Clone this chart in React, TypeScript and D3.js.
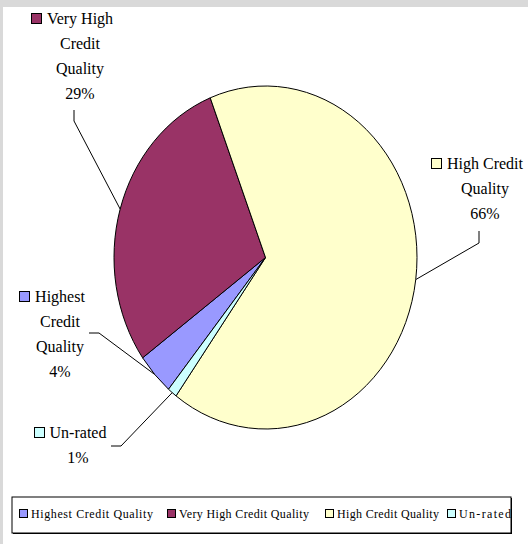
import React from "react";
import * as d3 from "d3";

const categories = ["Highest Credit Quality", "Very High Credit Quality", "High Credit Quality", "Un-rated"];
const values = [4, 29, 66, 1];
const colors = ["#9999FF", "#993366", "#FFFFCC", "#CCFFFF"];
const labelLines = [["Highest", "Credit", "Quality"], ["Very High", "Credit", "Quality"], ["High Credit", "Quality"], ["Un-rated"]];

// layout
const W = 528, H = 544;
const cx = 265.5, cy = 257.5, rx = 151.5, ry = 171.5;
const startDeg = 219.8;
const lineH = 25;
const labelLayout = [
  { tx: 60, by: 302, lead: [[89, 333], [99, 333]] },
  { tx: 80, by: 24, lead: [[74, 110], [74, 121]] },
  { tx: 485, by: 169, lead: [[479, 231], [479, 243]] },
  { tx: 78, by: 438, lead: [[111, 446], [121, 446]] },
];
const legendTextW = [122, 130, 102, 52];
const legendKeyX = [19, 167, 325, 447];
const FONT = "'Liberation Serif', 'Times New Roman', serif";

let ctx: CanvasRenderingContext2D | null = null;
function measure(text: string, size: number): number {
  if (!ctx) ctx = document.createElement("canvas").getContext("2d");
  if (!ctx) return text.length * size * 0.45;
  ctx.font = `${size}px ${FONT}`;
  return ctx.measureText(text).width;
}

export default function App() {
  const total = d3.sum(values);
  const start = (startDeg * Math.PI) / 180;
  const pie = d3.pie<number>().sort(null).value((d) => d).startAngle(start).endAngle(start + 2 * Math.PI);
  const arcs = pie(values);
  const arc = d3.arc<d3.PieArcDatum<number>>().innerRadius(0).outerRadius(rx);
  const sy = ry / rx;

  return (
    <svg width={W} height={H} style={{ position: "absolute", left: 0, top: 0 }} fontFamily={FONT}>
      <rect x={0} y={0} width={W} height={H} fill="#d9d9d9" />
      <rect x={3} y={7} width={W - 3} height={H - 7} fill="#ffffff" />
      <g transform={`translate(${cx},${cy}) scale(1,${sy})`}>
        {arcs.map((a, i) => (
          <path key={i} d={arc(a) || ""} fill={colors[i]} stroke="#000" strokeWidth={1} vectorEffect="non-scaling-stroke" />
        ))}
      </g>
      {arcs.map((a, i) => {
        const L = labelLayout[i];
        const mid = (a.startAngle + a.endAngle) / 2;
        const ex = cx + Math.sin(mid) * rx;
        const ey = cy - Math.cos(mid) * ry;
        const lines = [...labelLines[i], `${Math.round((values[i] / total) * 100)}%`];
        const w = measure(lines[0], 16);
        const left = L.tx - w / 2;
        return (
          <g key={i}>
            <polyline
              points={`${L.lead[0][0]},${L.lead[0][1]} ${L.lead[1][0]},${L.lead[1][1]} ${ex},${ey}`}
              fill="none"
              stroke="#000"
              strokeWidth={1}
            />
            {lines.map((t, j) => (
              <text key={j} x={L.tx} y={L.by + j * lineH} textAnchor="middle" fontSize={16} fill="#000">
                {t}
              </text>
            ))}
            <rect x={Math.round(left) - 15.5} y={L.by - 10.5} width={10} height={10} fill={colors[i]} stroke="#000" strokeWidth={1} />
          </g>
        );
      })}
      <rect x={13} y={498} width={499} height={36} fill="#000" />
      <rect x={12} y={497} width={499} height={36} fill="#fff" stroke="#000" strokeWidth={1} />
      {categories.map((c, i) => (
        <g key={i}>
          <rect x={legendKeyX[i] + 0.5} y={509.5} width={8} height={8} fill={colors[i]} stroke="#000" strokeWidth={1} />
          <text x={legendKeyX[i] + 12} y={517.5} fontSize={12} textLength={legendTextW[i]} lengthAdjust="spacing" fill="#000">
            {c}
          </text>
        </g>
      ))}
    </svg>
  );
}
